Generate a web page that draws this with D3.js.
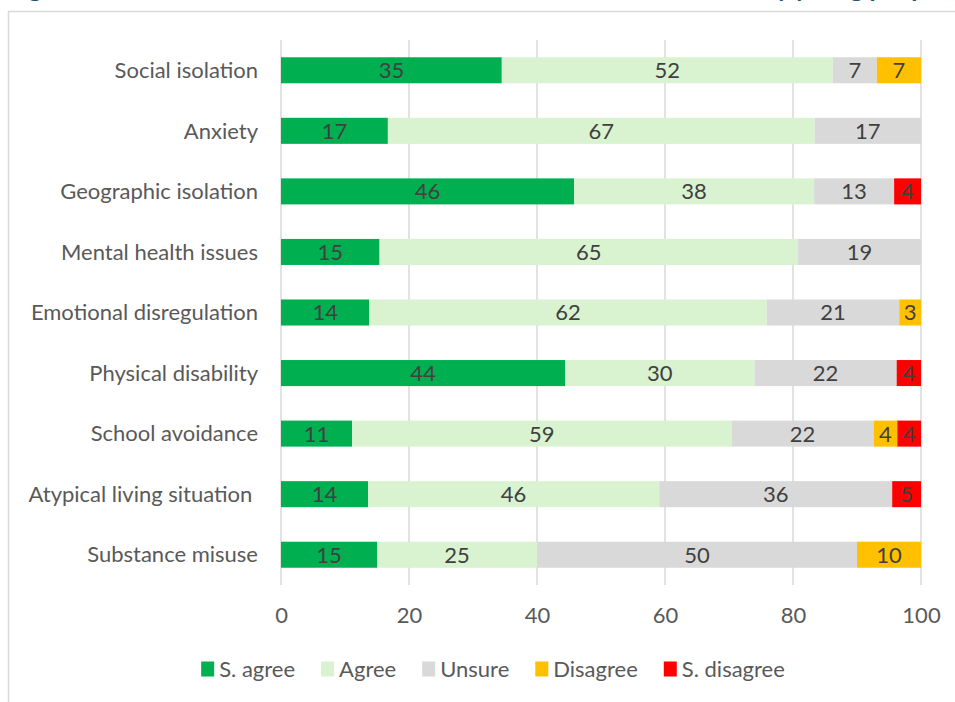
<!DOCTYPE html>
<html>
<head>
<meta charset="utf-8">
<script src="https://cdn.jsdelivr.net/npm/d3@7"></script>
<style>
  html, body { margin: 0; padding: 0; background: #fff; }
  svg { display: block; }
</style>
</head>
<body>
<svg id="chart" width="955" height="702"></svg>
<script>
// Response categories (stack order, left to right)
const keys = ["S. agree", "Agree", "Unsure", "Disagree", "S. disagree"];
const colors = ["#00b050", "#d9f2d0", "#d9d9d9", "#ffc000", "#ff0000"];

// Factors, top to bottom
const factors = [
  "Social isolation",
  "Anxiety",
  "Geographic isolation",
  "Mental health issues",
  "Emotional disregulation",
  "Physical disability",
  "School avoidance",
  "Atypical living situation ",
  "Substance misuse"
];

// Percentage of respondents per factor and response
const sAgree    = [34.5, 16.7, 45.8, 15.4, 13.8, 44.4, 11.1, 13.6, 15];
const agree     = [51.7, 66.7, 37.5, 65.4, 62.1, 29.6, 59.3, 45.5, 25];
const unsure    = [ 6.9, 16.6, 12.5, 19.2, 20.7, 22.2, 22.2, 36.4, 50];
const disagree  = [ 6.9,  0,    0,    0,    3.4,  0,    3.7,  0,   10];
const sDisagree = [ 0,    0,    4.2,  0,    0,    3.8,  3.7,  4.5,  0];

const xTicks = [0, 20, 40, 60, 80, 100];

const rows = factors.map((f, i) => ({
  factor: f,
  "S. agree": sAgree[i],
  "Agree": agree[i],
  "Unsure": unsure[i],
  "Disagree": disagree[i],
  "S. disagree": sDisagree[i]
}));

const svg = d3.select("#chart");
const FONT = "Lato, 'Open Sans', sans-serif";
const FS = 22;

// Title line above the chart frame (mostly clipped by the top edge)
const titleG = svg.append("g")
  .attr("font-family", FONT)
  .attr("font-weight", "bold")
  .attr("font-size", 25)
  .attr("fill", "#1f5473");
titleG.append("text").attr("x", 8).attr("y", -3.5).text("Figure");
const tail = titleG.append("text").attr("y", -3.5).text("by young people (");
const tailW = tail.node().getComputedTextLength();
tail.attr("x", 958 - tailW).text("by young people (%)");

// Chart frame
svg.append("rect")
  .attr("x", 8.5).attr("y", 11.5)
  .attr("width", 1000).attr("height", 1000)
  .attr("fill", "none")
  .attr("stroke", "#d9d9d9")
  .attr("stroke-width", 1.5);

const plot = { left: 281, right: 921, top: 40, bottom: 585 };

const x = d3.scaleLinear().domain([0, 100]).range([plot.left, plot.right]);
const y = d3.scaleBand().domain(factors).range([plot.top, plot.bottom]).paddingInner(0.57).paddingOuter(0.285);

// Vertical gridlines
svg.append("g")
  .selectAll("line")
  .data(xTicks)
  .join("line")
  .attr("x1", d => x(d)).attr("x2", d => x(d))
  .attr("y1", plot.top).attr("y2", plot.bottom)
  .attr("stroke", "#d9d9d9")
  .attr("stroke-width", 1.5);

// X axis tick labels
const xAxis = d3.axisBottom(x).tickValues(xTicks).tickSize(0).tickPadding(0);
const xg = svg.append("g")
  .attr("transform", `translate(0,${plot.bottom + 38})`)
  .call(xAxis);
xg.select(".domain").remove();
xg.selectAll("text")
  .attr("font-family", FONT)
  .attr("font-size", FS)
  .attr("fill", "#595959")
  .attr("dy", 0);

// Y axis category labels
const yAxis = d3.axisLeft(y).tickSize(0).tickPadding(23);
const yg = svg.append("g")
  .attr("transform", `translate(${plot.left},0)`)
  .call(yAxis);
yg.select(".domain").remove();
yg.selectAll("text")
  .attr("font-family", FONT)
  .attr("font-size", FS)
  .attr("fill", "#595959")
  .attr("dy", "0.35em")
  .style("white-space", "pre");

// Stacked bars
const stack = d3.stack().keys(keys);
const series = stack(rows);

const layers = svg.append("g")
  .selectAll("g")
  .data(series)
  .join("g")
  .attr("fill", (d, i) => colors[i]);

layers.selectAll("rect")
  .data(d => d.filter(s => s[1] - s[0] > 0))
  .join("rect")
  .attr("x", d => x(d[0]))
  .attr("width", d => x(d[1]) - x(d[0]))
  .attr("y", d => y(d.data.factor))
  .attr("height", y.bandwidth());

// Segment value labels
layers.selectAll("text")
  .data(d => d.filter(s => s[1] - s[0] > 0))
  .join("text")
  .attr("x", d => (x(d[0]) + x(d[1])) / 2)
  .attr("y", d => y(d.data.factor) + y.bandwidth() / 2)
  .attr("dy", "0.36em")
  .attr("text-anchor", "middle")
  .attr("font-family", FONT)
  .attr("font-size", FS)
  .attr("fill", "#404040")
  .text(d => Math.round(d[1] - d[0]));

// Legend
const legend = svg.append("g")
  .attr("font-family", FONT)
  .attr("font-size", FS)
  .attr("fill", "#595959");

const items = legend.selectAll("g")
  .data(keys)
  .join("g");

items.append("rect")
  .attr("width", 13).attr("height", 15)
  .attr("y", -7.5)
  .attr("fill", (d, i) => colors[i]);

items.append("text")
  .attr("x", 18)
  .attr("dy", "0.35em")
  .text(d => d);

let cursor = 0;
const gap = 26;
const offsets = [];
items.each(function () {
  const w = this.getBBox().width;
  offsets.push(cursor);
  cursor += w + gap;
});
const totalW = cursor - gap;
const legendX = 493 - totalW / 2;
items.attr("transform", (d, i) => `translate(${legendX + offsets[i]},669)`);
</script>
</body>
</html>
